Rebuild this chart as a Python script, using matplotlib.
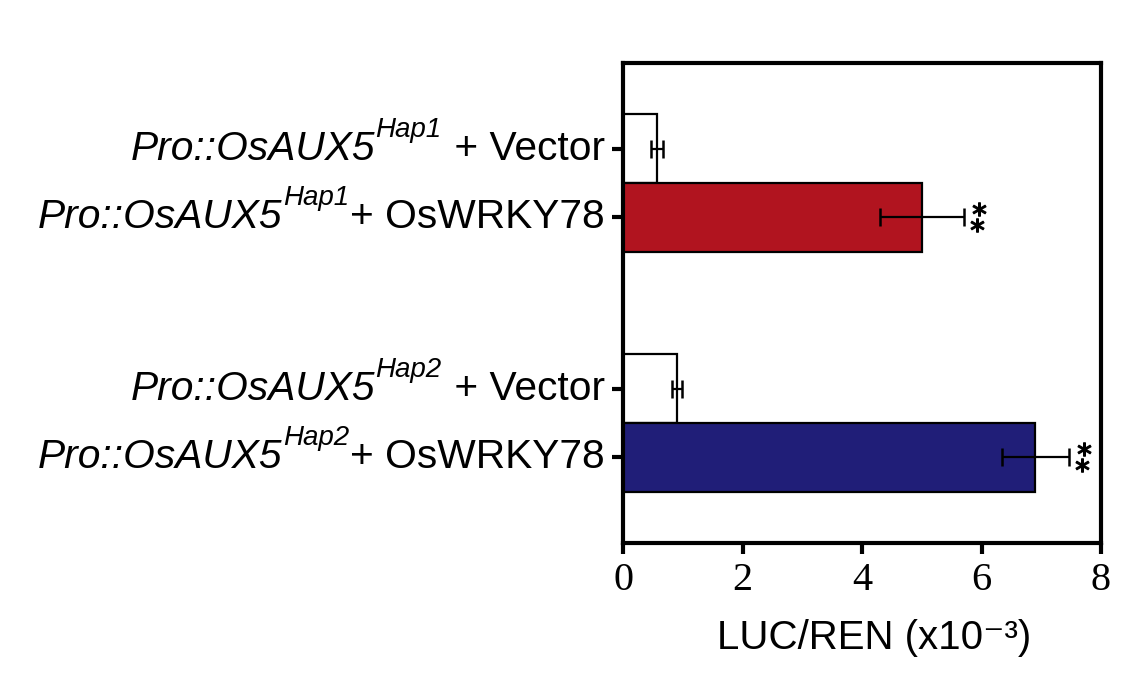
import matplotlib
matplotlib.use("Agg")
import matplotlib.pyplot as plt
import matplotlib.transforms as mtransforms

# LUC/REN ratio (x10^-3)
haps = ["Hap1", "Hap1", "Hap2", "Hap2"]
tails = [" + Vector", "+ OsWRKY78", " + Vector", "+ OsWRKY78"]
means = [0.57, 5.00, 0.90, 6.90]
errs = [0.10, 0.70, 0.08, 0.56]
sig = ["", "**", "", "**"]
pos = [0.0, 1.0, 3.5, 4.5]
colors = ["white", "#B1141F", "white", "#201E78"]
xticks = [0, 2, 4, 6, 8]

SANS = ["Liberation Sans", "DejaVu Sans"]
plt.rcParams["font.family"] = SANS

fig = plt.figure(figsize=(11.23, 6.85), dpi=100)
ax = fig.add_axes([0.5548, 0.2073, 0.4256, 0.7007])

ax.barh(pos, means, height=1.0, color=colors, edgecolor="black", linewidth=1.6)
ax.errorbar(means, pos, xerr=errs, fmt="none", ecolor="black",
            elinewidth=1.6, capsize=6.5, capthick=1.8)

# significance stars, stacked just right of the error bar
for m, e, p, s in zip(means, errs, pos, sig):
    if not s:
        continue
    for k, dy in enumerate([8, -8]):
        tr = mtransforms.offset_copy(ax.transData, fig=fig, x=13 + (2 if k == 0 else 0),
                                     y=dy, units="dots")
        ax.plot([m + e], [p], marker="$*$", ms=9.5, color="black", transform=tr,
                clip_on=False)

ax.set_xlim(0, 8)
ax.set_ylim(5.75, -1.25)
ax.set_xticks(xticks)
ax.set_xticklabels([str(t) for t in xticks], family="Liberation Serif", fontsize=29)
ax.set_yticks(pos)
ax.set_yticklabels([])
ax.tick_params(axis="both", direction="out", width=3, length=8, pad=6)
for sp in ax.spines.values():
    sp.set_linewidth(3)

ax.set_xlabel("LUC/REN (x10⁻³)", fontsize=29, labelpad=14)
ax.xaxis.label.set_position((0.525, 0))

# y labels: italic construct + superscript haplotype + plain tail
ytr = ax.get_yaxis_transform()
for p, hap, tail in zip(pos, haps, tails):
    t_tail = ax.text(-0.038, p, tail, ha="right", va="center", fontsize=29.3,
                     transform=ytr)
    t_sup = ax.annotate(hap, xy=(0, 0), xycoords=t_tail, xytext=(-1, 18),
                        textcoords="offset points", ha="right", va="bottom",
                        fontsize=20, style="italic")
    ax.annotate("Pro::OsAUX5", xy=(0, 0), xycoords=(t_sup, t_tail),
                ha="right", va="bottom", fontsize=29.3, style="italic")

fig.savefig("out.png", dpi=100)
